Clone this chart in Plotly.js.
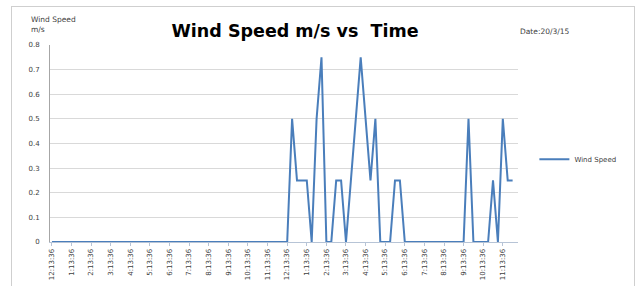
<!DOCTYPE html>
<html>
<head>
<meta charset="utf-8">
<script src="https://cdn.plot.ly/plotly-3.0.1.min.js"></script>
<style>
  html, body { margin: 0; padding: 0; background: #ffffff; }
  #wrap { position: relative; width: 640px; height: 286px; }
  #chart { width: 640px; height: 286px; }
  #frame { position: absolute; left: 11px; top: 6px; width: 624px; height: 284px;
           border: 1px solid #cfcfcf; pointer-events: none; box-sizing: border-box; }
</style>
</head>
<body>
<div id="wrap">
  <div id="chart"></div>
  <div id="frame"></div>
</div>
<script>
// Wind speed readings, one every 15 minutes (96 readings)
const windSpeed = [
  0, 0, 0, 0, 0, 0, 0, 0, 0, 0, 0, 0,
  0, 0, 0, 0, 0, 0, 0, 0, 0, 0, 0, 0,
  0, 0, 0, 0, 0, 0, 0, 0, 0, 0, 0, 0,
  0, 0, 0, 0, 0, 0, 0, 0, 0, 0, 0, 0,
  0, 0.5, 0.25, 0.25, 0.25, 0, 0.5, 0.75, 0, 0, 0.25, 0.25,
  0, 0.25, 0.5, 0.75, 0.5, 0.25, 0.5, 0, 0, 0, 0.25, 0.25,
  0, 0, 0, 0, 0, 0, 0, 0, 0, 0, 0, 0,
  0, 0.5, 0, 0, 0, 0, 0.25, 0, 0.5, 0.25, 0.25
];
// Hourly tick labels (one every 4 readings)
const tickLabels = [
  "12:13:36", "1:13:36", "2:13:36", "3:13:36", "4:13:36", "5:13:36",
  "6:13:36", "7:13:36", "8:13:36", "9:13:36", "10:13:36", "11:13:36",
  "12:13:36", "1:13:36", "2:13:36", "3:13:36", "4:13:36", "5:13:36",
  "6:13:36", "7:13:36", "8:13:36", "9:13:36", "10:13:36", "11:13:36"
];
const yTicks = [0, 0.1, 0.2, 0.3, 0.4, 0.5, 0.6, 0.7, 0.8];
const yTickText = ["0", "0.1", "0.2", "0.3", "0.4", "0.5", "0.6", "0.7", "0.8"];
const titleText = "Wind Speed m/s vs&nbsp; Time";
const yTitleText = "Wind Speed<br>m/s";
const dateText = "Date:20/3/15";
const seriesName = "Wind Speed";

const xIdx = windSpeed.map((v, i) => i);
const tickIdx = tickLabels.map((t, i) => i * 4);

const FONT = "DejaVu Sans, Verdana, sans-serif";
const TXT = "#404040";

const trace = {
  x: xIdx,
  y: windSpeed,
  type: "scatter",
  mode: "lines",
  name: seriesName,
  line: { color: "#4a7ebb", width: 2 },
  showlegend: true
};

const layout = {
  width: 640,
  height: 286,
  margin: { l: 50, r: 122, t: 45, b: 44 },
  paper_bgcolor: "#ffffff",
  plot_bgcolor: "#ffffff",
  font: { family: FONT, color: TXT, size: 8 },
  title: {
    text: "<b>" + titleText + "</b>",
    font: { family: FONT, size: 17.5, color: "#000000" },
    x: 0.461, xanchor: "center", xref: "container",
    y: 0.893, yanchor: "middle", yref: "container"
  },
  xaxis: {
    range: [-0.4, 95.1],
    tickmode: "array",
    tickvals: tickIdx,
    ticktext: tickLabels,
    tickangle: -90,
    tickfont: { family: FONT, size: 7, color: TXT },
    showgrid: false,
    zeroline: false,
    showline: true,
    linecolor: "#b7c4d6",
    linewidth: 1,
    ticks: "outside",
    ticklen: 3,
    tickcolor: "#b7c4d6",
    fixedrange: true
  },
  yaxis: {
    range: [0, 0.8],
    tickmode: "array",
    tickvals: yTicks,
    ticktext: yTickText,
    tickfont: { family: FONT, size: 7, color: TXT },
    showgrid: true,
    gridcolor: "#d9d9d9",
    gridwidth: 1,
    zeroline: false,
    showline: true,
    linecolor: "#a6a6a6",
    linewidth: 1,
    ticks: "",
    ticklabelstandoff: 8,
    fixedrange: true
  },
  legend: {
    x: 1.035, xanchor: "left",
    y: 0.42, yanchor: "middle",
    font: { family: FONT, size: 7, color: TXT },
    bgcolor: "rgba(0,0,0,0)",
    itemwidth: 30
  },
  annotations: [
    {
      text: yTitleText, xref: "paper", yref: "paper",
      x: -0.045, xanchor: "left", y: 1.16, yanchor: "top",
      showarrow: false, align: "left",
      font: { family: FONT, size: 7.5, color: TXT }
    },
    {
      text: dateText, xref: "paper", yref: "paper",
      x: 1.0, xanchor: "left", y: 1.066, yanchor: "middle",
      showarrow: false, align: "left",
      font: { family: FONT, size: 7.5, color: TXT }
    }
  ]
};

Plotly.newPlot("chart", [trace], layout, { displayModeBar: false, staticPlot: true });
</script>
</body>
</html>
